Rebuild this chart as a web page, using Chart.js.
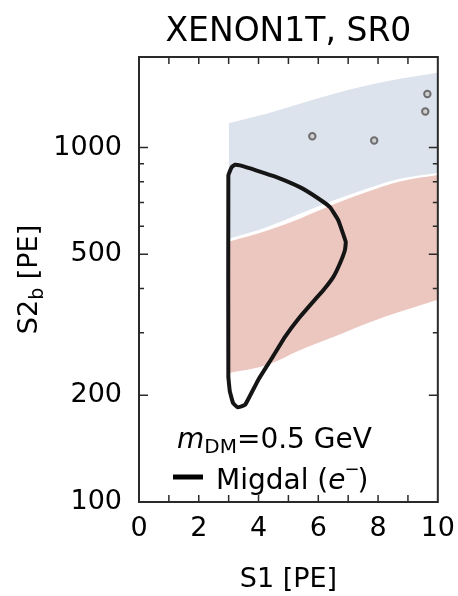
<!DOCTYPE html>
<html>
<head>
<meta charset="utf-8">
<script src="https://cdn.jsdelivr.net/npm/chart.js@4"></script>
<style>
  html, body { margin: 0; padding: 0; background: #fff; }
</style>
</head>
<body>
<canvas id="chart" width="458" height="596"></canvas>
<script>
// S1 grid shared by the two bands
const bandS1 = [3.0, 4.27, 5.38, 6.5, 7.62, 8.73, 10];
const erTop = [1171, 1245, 1328, 1416, 1495, 1562, 1625];
const erBottom = [553, 596, 650, 709, 765, 816, 848];
const nrTop = [542, 582, 630, 690, 749, 802, 836];
const nrBottom = [231, 243, 268, 292, 319, 344, 372];

// Migdal contour, closed loop
const migdalS1 = [2.99, 2.99, 3.10, 3.21, 3.38, 3.94, 4.60, 5.38, 5.94, 6.39, 6.67, 6.83, 6.92, 6.89, 6.72, 6.50, 6.16, 5.86, 5.35, 4.88, 4.44, 3.99, 3.55, 3.30, 3.15, 3.04, 2.99];
const migdalS2 = [225, 834, 880, 894, 890, 861, 825, 773, 724, 679, 623, 571, 541, 513, 470, 431, 395, 370, 330, 292, 254, 221, 188, 185, 190, 205, 225];

// observed events
const eventS1 = [5.80, 7.87, 9.58, 9.65];
const eventS2 = [1076, 1046, 1263, 1416];

const xLabelTicks = [0, 2, 4, 6, 8, 10];
const xMinorTicks = [1, 2, 3, 4, 5, 6, 7, 8, 9];
const yLabelTicks = [100, 200, 500, 1000];
const yMinorTicks = [300, 400, 600, 700, 800, 900];

const FONT = "'DejaVu Sans', Verdana, sans-serif";

const pts = (xs, ys) => xs.map((x, i) => ({ x: x, y: ys[i] }));

function drawFrame(chart) {
  const ctx = chart.ctx;
  const a = chart.chartArea;
  const xs = chart.scales.x, ys = chart.scales.y;
  ctx.save();
  ctx.strokeStyle = '#2a2a2a';
  ctx.lineWidth = 2;
  ctx.strokeRect(a.left, a.top, a.right - a.left, a.bottom - a.top);
  ctx.lineWidth = 1.5;
  ctx.beginPath();
  xMinorTicks.forEach(v => {
    const px = xs.getPixelForValue(v);
    ctx.moveTo(px, a.bottom); ctx.lineTo(px, a.bottom - 7);
    ctx.moveTo(px, a.top); ctx.lineTo(px, a.top + 7);
  });
  yLabelTicks.concat(yMinorTicks).forEach(v => {
    const py = ys.getPixelForValue(v);
    const len = yLabelTicks.includes(v) ? 9 : 5;
    ctx.moveTo(a.left, py); ctx.lineTo(a.left + len, py);
    ctx.moveTo(a.right, py); ctx.lineTo(a.right - len, py);
  });
  ctx.stroke();
  ctx.restore();
}

function drawTexts(chart) {
  const ctx = chart.ctx;
  const a = chart.chartArea;
  const cx = (a.left + a.right) / 2;
  ctx.save();
  ctx.fillStyle = '#000';

  // title
  ctx.font = '33px ' + FONT;
  ctx.textAlign = 'center';
  ctx.textBaseline = 'alphabetic';
  ctx.fillText('XENON1T, SR0', cx, 41);

  // x axis title
  ctx.font = '27px ' + FONT;
  ctx.fillText('S1 [PE]', cx, 587);

  // y axis title with subscript
  ctx.save();
  ctx.translate(37, (a.top + a.bottom) / 2);
  ctx.rotate(-Math.PI / 2);
  ctx.textAlign = 'left';
  const p1 = 'S2', p3 = ' [PE]';
  ctx.font = '27px ' + FONT;
  const w1 = ctx.measureText(p1).width, w3 = ctx.measureText(p3).width;
  ctx.font = '19px ' + FONT;
  const w2 = ctx.measureText('b').width;
  let x0 = -(w1 + w2 + w3) / 2;
  ctx.font = '27px ' + FONT;
  ctx.fillText(p1, x0, 0);
  ctx.font = '19px ' + FONT;
  ctx.fillText('b', x0 + w1, 6);
  ctx.font = '27px ' + FONT;
  ctx.fillText(p3, x0 + w1 + w2, 0);
  ctx.restore();

  // legend block
  ctx.textAlign = 'left';
  let lx = 177, ly = 448;
  ctx.font = 'italic 28px ' + FONT;
  ctx.fillText('m', lx, ly);
  lx += ctx.measureText('m').width;
  ctx.font = '20px ' + FONT;
  ctx.fillText('DM', lx, ly + 5);
  lx += ctx.measureText('DM').width;
  ctx.font = '28px ' + FONT;
  ctx.fillText('=0.5 GeV', lx, ly);

  ctx.strokeStyle = '#000';
  ctx.lineWidth = 5;
  ctx.beginPath();
  ctx.moveTo(173, 477); ctx.lineTo(203, 477);
  ctx.stroke();

  lx = 216; ly = 489;
  ctx.font = '28px ' + FONT;
  ctx.fillText('Migdal (', lx, ly);
  lx += ctx.measureText('Migdal (').width;
  ctx.font = 'italic 28px ' + FONT;
  ctx.fillText('e', lx, ly);
  lx += ctx.measureText('e').width;
  ctx.font = '18px ' + FONT;
  ctx.fillText('\u2212', lx - 1, ly - 14);
  lx += ctx.measureText('\u2212').width - 3;
  ctx.font = '28px ' + FONT;
  ctx.fillText(')', lx, ly);
  ctx.restore();
}

const overlay = {
  id: 'overlay',
  afterDatasetsDraw(chart) { drawFrame(chart); },
  afterDraw(chart) { drawTexts(chart); }
};

const band = (data, color, fillTarget) => ({
  data: data,
  borderWidth: 0,
  borderColor: color,
  backgroundColor: color,
  pointRadius: 0,
  cubicInterpolationMode: 'monotone',
  fill: fillTarget
});

new Chart(document.getElementById('chart'), {
  type: 'line',
  data: {
    datasets: [
      {
        data: pts(eventS1, eventS2),
        showLine: false,
        pointRadius: 3.2,
        pointBorderWidth: 2,
        pointBorderColor: '#6e6e6e',
        pointBackgroundColor: '#cfcfcf'
      },
      {
        data: pts(migdalS1, migdalS2),
        borderColor: '#151515',
        borderWidth: 4,
        borderJoinStyle: 'round',
        pointRadius: 0,
        tension: 0.1,
        fill: false
      },
      band(pts(bandS1, erTop), 'rgb(220,227,237)', 3),
      band(pts(bandS1, erBottom), 'rgb(220,227,237)', false),
      band(pts(bandS1, nrTop), 'rgb(236,199,192)', 5),
      band(pts(bandS1, nrBottom), 'rgb(236,199,192)', false)
    ]
  },
  options: {
    responsive: false,
    animation: false,
    layout: { padding: { top: 57, right: 20, left: 0, bottom: 0 } },
    plugins: { legend: { display: false }, tooltip: { enabled: false } },
    scales: {
      x: {
        type: 'linear',
        min: 0,
        max: 10,
        afterBuildTicks: s => { s.ticks = xLabelTicks.map(v => ({ value: v })); },
        afterFit: s => { s.height = 94; },
        grid: { display: false },
        border: { display: false },
        ticks: { color: '#000', font: { family: FONT, size: 27 }, padding: 3, maxRotation: 0 }
      },
      y: {
        type: 'logarithmic',
        min: 100,
        max: 1800,
        afterBuildTicks: s => { s.ticks = yLabelTicks.map(v => ({ value: v })); },
        afterFit: s => { s.width = 139; },
        grid: { display: false },
        border: { display: false },
        ticks: { color: '#000', font: { family: FONT, size: 27 }, padding: 9, callback: v => String(v) }
      }
    }
  },
  plugins: [overlay]
});
</script>
</body>
</html>
